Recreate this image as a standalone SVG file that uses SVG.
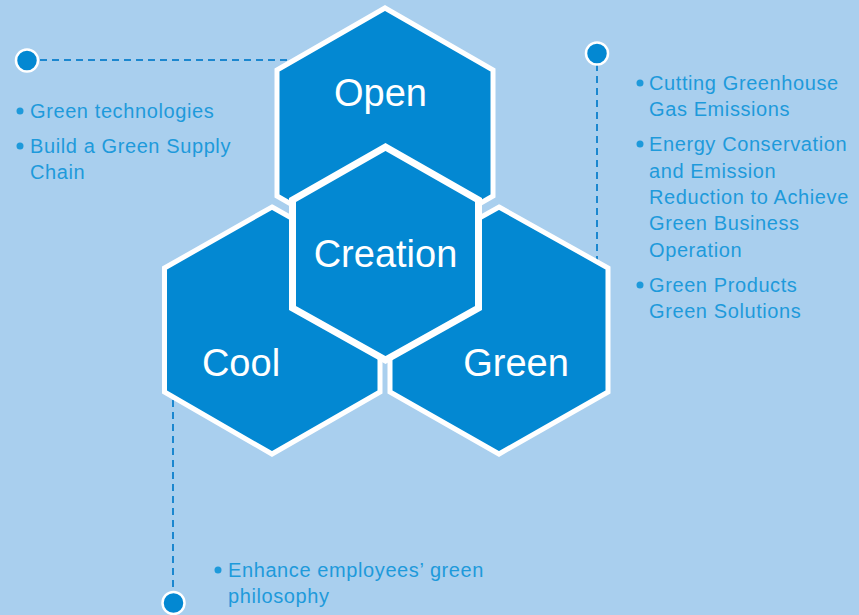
<svg xmlns="http://www.w3.org/2000/svg" width="859" height="615" viewBox="0 0 859 615">
<style>
.hex{fill:#0388D2;stroke:#fff;stroke-width:5;stroke-linejoin:miter}
.lbl{font-family:"Liberation Sans",Arial,sans-serif;font-size:38px;fill:#fff;text-anchor:middle}
.txt{font-family:"Liberation Sans",Arial,sans-serif;font-size:20px;fill:#1E9ADB;letter-spacing:0.6px}
.bul{fill:#1E9ADB}
.dash{stroke:#1B87CF;stroke-width:2;stroke-dasharray:7 5;fill:none}
.dot{fill:#0388D2;stroke:#fff;stroke-width:2.5}
</style>
<rect width="859" height="615" fill="#A9CFEE"/>
<g id="connectors">
<line class="dash" x1="40" y1="60" x2="292" y2="60"/>
<line class="dash" x1="597" y1="64" x2="597" y2="262"/>
<line class="dash" x1="173" y1="400" x2="173" y2="592"/>
<circle class="dot" cx="27" cy="60.5" r="11"/>
<circle class="dot" cx="597" cy="53.5" r="11"/>
<circle class="dot" cx="173.5" cy="603" r="11"/>
</g>
<g id="open">
<polygon class="hex" points="385,8 493,70 493,196 385,258 277,196 277,70"/>
<text class="lbl" x="380.5" y="106">Open</text>
</g>
<g id="cool">
<polygon class="hex" points="272,207 380,268 380,392 272,454 164.5,392 164.5,268"/>
<text class="lbl" x="241" y="376">Cool</text>
</g>
<g id="green">
<polygon class="hex" points="499,207 608,268 608,392 499,454 390,392 390,268"/>
<text class="lbl" x="516" y="376">Green</text>
</g>
<g id="creation">
<polygon class="hex" style="stroke-width:7" points="385.5,147 478.5,200 478.5,308 385.5,360 292.5,308 292.5,200"/>
<text class="lbl" x="385.5" y="267">Creation</text>
</g>
<g id="left-text">
<circle class="bul" cx="20" cy="111" r="3.5"/>
<text class="txt" x="30" y="118">Green technologies</text>
<circle class="bul" cx="20" cy="146" r="3.5"/>
<text class="txt" x="30" y="153">Build a Green Supply</text>
<text class="txt" x="30" y="179">Chain</text>
</g>
<g id="right-text">
<circle class="bul" cx="640" cy="83" r="3.5"/>
<text class="txt" x="649" y="90">Cutting Greenhouse</text>
<text class="txt" x="649" y="116">Gas Emissions</text>
<circle class="bul" cx="640" cy="144" r="3.5"/>
<text class="txt" x="649" y="151">Energy Conservation</text>
<text class="txt" x="649" y="178">and Emission</text>
<text class="txt" x="649" y="204">Reduction to Achieve</text>
<text class="txt" x="649" y="230">Green Business</text>
<text class="txt" x="649" y="257">Operation</text>
<circle class="bul" cx="640" cy="285" r="3.5"/>
<text class="txt" x="649" y="292">Green Products</text>
<text class="txt" x="649" y="318">Green Solutions</text>
</g>
<g id="bottom-text">
<circle class="bul" cx="218" cy="570" r="3.5"/>
<text class="txt" x="228" y="577">Enhance employees’ green</text>
<text class="txt" x="228" y="603">philosophy</text>
</g>
</svg>
